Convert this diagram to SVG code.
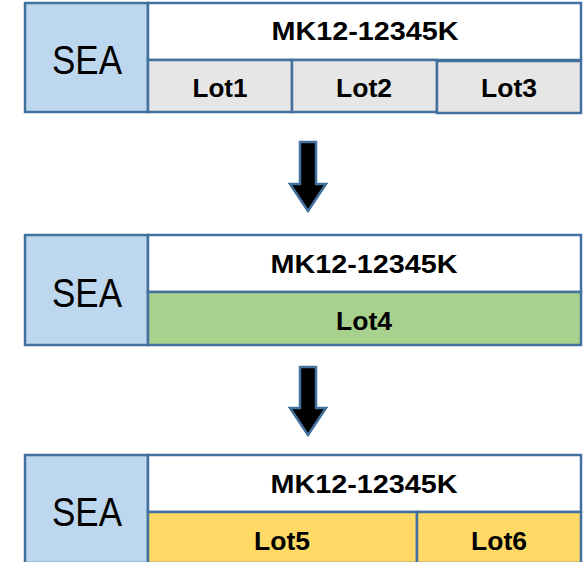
<svg xmlns="http://www.w3.org/2000/svg" width="585" height="562" viewBox="0 0 585 562">
<style>
.b{stroke:#41719C;stroke-width:2.5}
.sea{fill:#BDD7EE}
.wh{fill:#FFFFFF}
.gr{fill:#E7E6E6}
.gn{fill:#A9D18E}
.yl{fill:#FFD966}
.t1{font-family:"Liberation Sans",Arial,sans-serif;font-size:41px;fill:#000;text-anchor:middle}
.t2{font-family:"Liberation Sans",Arial,sans-serif;font-size:25px;font-weight:bold;fill:#000;text-anchor:middle}
.t3{font-family:"Liberation Sans",Arial,sans-serif;font-size:26px;font-weight:bold;fill:#000;text-anchor:middle}
.ar{fill:#000;stroke:#41719C;stroke-width:2.5;stroke-linejoin:miter}
</style>
<rect width="585" height="562" fill="#fff"/>
<g id="block1">
<rect class="b sea" x="25" y="3" width="123" height="109"/>
<text class="t1" x="87" y="74" textLength="70" lengthAdjust="spacingAndGlyphs">SEA</text>
<rect class="b wh" x="148" y="3" width="433" height="57"/>
<text class="t2" x="365" y="40" textLength="187" lengthAdjust="spacingAndGlyphs">MK12-12345K</text>
<rect class="b gr" x="148" y="60" width="144" height="52"/>
<text class="t3" x="220" y="97" textLength="55" lengthAdjust="spacingAndGlyphs">Lot1</text>
<rect class="b gr" x="292" y="60" width="145" height="52"/>
<text class="t3" x="364" y="97" textLength="56" lengthAdjust="spacingAndGlyphs">Lot2</text>
<rect class="b gr" x="437" y="61" width="144" height="52"/>
<text class="t3" x="509" y="97" textLength="56" lengthAdjust="spacingAndGlyphs">Lot3</text>
</g>
<g id="block2">
<rect class="b sea" x="25" y="235" width="123" height="110"/>
<text class="t1" x="87" y="307" textLength="70" lengthAdjust="spacingAndGlyphs">SEA</text>
<rect class="b wh" x="148" y="235" width="433" height="57"/>
<text class="t2" x="364" y="273" textLength="187" lengthAdjust="spacingAndGlyphs">MK12-12345K</text>
<rect class="b gn" x="148" y="292" width="433" height="53"/>
<text class="t3" x="364" y="330" textLength="56" lengthAdjust="spacingAndGlyphs">Lot4</text>
</g>
<g id="block3">
<rect class="b sea" x="25" y="455" width="123" height="108"/>
<text class="t1" x="87" y="526" textLength="70" lengthAdjust="spacingAndGlyphs">SEA</text>
<rect class="b wh" x="148" y="455" width="433" height="57"/>
<text class="t2" x="364" y="493" textLength="187" lengthAdjust="spacingAndGlyphs">MK12-12345K</text>
<rect class="b yl" x="148" y="512" width="269" height="51"/>
<text class="t3" x="282" y="550" textLength="56" lengthAdjust="spacingAndGlyphs">Lot5</text>
<rect class="b yl" x="417" y="512" width="164" height="51"/>
<text class="t3" x="499" y="550" textLength="56" lengthAdjust="spacingAndGlyphs">Lot6</text>
</g>
<g id="connectors">
<polygon class="ar" points="300,142 316,142 316,184 326,184 308,211 290,184 300,184"/>
<polygon class="ar" points="300,367 316,367 316,408 326,408 308,435 290,408 300,408"/>
</g>
</svg>
